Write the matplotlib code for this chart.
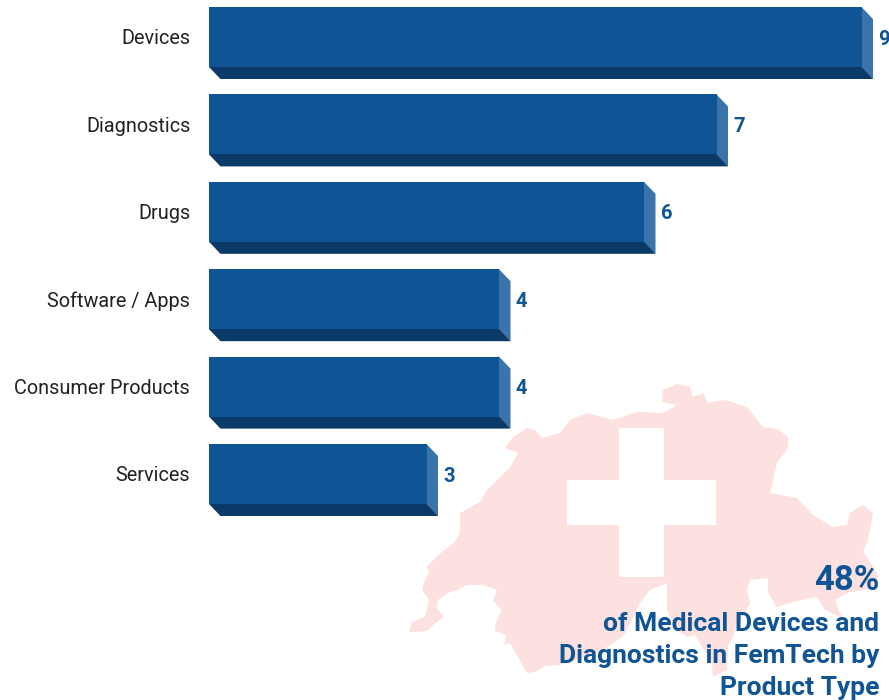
import matplotlib
matplotlib.use("Agg")
import matplotlib.pyplot as plt
from matplotlib.patches import Polygon, Rectangle

plt.rcParams['font.family'] = ['Roboto', 'DejaVu Sans']

categories = ["Devices", "Diagnostics", "Drugs", "Software / Apps", "Consumer Products", "Services"]
counts = [9, 7, 6, 4, 4, 3]

callout_value = "48%"
callout_lines = ["of Medical Devices and", "Diagnostics in FemTech by", "Product Type"]

# outline of Switzerland, in figure pixels
map_outline = [
    (409, 632), (412, 622), (425, 617), (429, 600), (422, 590), (424, 582), (429, 572), (427, 566),
    (442, 552), (455, 542), (460, 533), (460, 513), (480, 502), (487, 490), (500, 477), (510, 467),
    (518, 453), (505, 448), (512, 438), (527, 428), (535, 430), (542, 438), (560, 433), (570, 420),
    (587, 413), (613, 420), (637, 412), (663, 413), (677, 405), (662, 402), (663, 390), (677, 384),
    (690, 387), (693, 397), (703, 393), (708, 403), (725, 400), (747, 407), (763, 427), (778, 429),
    (788, 437), (788, 448), (777, 463), (770, 493), (797, 498), (813, 515), (833, 527), (847, 525),
    (850, 513), (863, 505), (873, 513), (868, 540), (863, 552), (872, 565), (878, 575), (875, 588),
    (850, 592), (835, 600), (842, 618), (825, 610), (817, 597), (793, 602), (777, 607), (768, 593),
    (768, 578), (750, 580), (747, 590), (750, 603), (737, 627), (728, 647), (727, 670), (713, 677),
    (712, 663), (695, 635), (687, 637), (677, 630), (667, 610), (667, 583), (650, 590), (640, 603),
    (627, 630), (622, 637), (600, 652), (560, 665), (545, 666), (535, 672), (527, 673), (518, 657),
    (510, 643), (504, 645), (506, 635), (495, 631), (496, 622), (502, 610), (493, 601), (497, 590),
    (483, 585), (467, 585), (457, 590), (448, 593), (438, 600), (437, 608), (444, 617), (433, 625),
    (427, 631),
]

BLUE = "#0F5494"
SIDE = "#3B73AB"
UNDER = "#0B3A68"
PINK = "#FDE0E0"

W, H = 889, 700
unit = 72.5      # pixels per count
row = 87.4       # pixels per category
depth_x = 11.5 / unit
depth_y = 12 / row
bar_h = 60 / row
lap = 0.02       # faces run a little under the front so no seam shows

fig = plt.figure(figsize=(W / 100, H / 100), dpi=100)

# background layer with the map and the white cross
bg = fig.add_axes([0, 0, 1, 1])
bg.set_xlim(0, W)
bg.set_ylim(H, 0)
bg.axis("off")
bg.add_patch(Polygon(map_outline, closed=True, facecolor=PINK, edgecolor="none"))
bg.add_patch(Rectangle((619, 428), 45, 149, facecolor="white", edgecolor="none"))
bg.add_patch(Rectangle((567, 480), 149, 45, facecolor="white", edgecolor="none"))

ax = fig.add_axes([209 / W, 0, (W - 209) / W, 1])
ax.patch.set_alpha(0)
ax.set_xlim(0, (W - 209) / unit)
ax.set_ylim((H - 37) / row, -37 / row)
for s in ax.spines.values():
    s.set_visible(False)
ax.xaxis.set_visible(False)

ypos = list(range(len(categories)))
ax.barh(ypos, counts, height=bar_h, color=BLUE, linewidth=0, zorder=3)

# fake 3d: a side face and an under face for every bar
for y, v in zip(ypos, counts):
    top = y - bar_h / 2
    bot = y + bar_h / 2
    ax.add_patch(Polygon([(v - lap, top), (v, top), (v + depth_x, top + depth_y),
                          (v + depth_x, bot + depth_y), (v - lap, bot)],
                         closed=True, facecolor=SIDE, edgecolor="none", zorder=2))
    ax.add_patch(Polygon([(0, bot - lap), (v, bot - lap), (v, bot), (v + depth_x, bot + depth_y),
                          (depth_x, bot + depth_y), (0, bot)],
                         closed=True, facecolor=UNDER, edgecolor="none", zorder=2))
    ax.annotate(str(v), (v, y), xytext=(12.2, -1.5), textcoords="offset points", ha="left", va="center",
                color=BLUE, fontsize=14.5, fontweight="bold", annotation_clip=False)

ax.set_yticks(ypos)
ax.set_yticklabels(categories, fontsize=14.3, color="#222222")
ax.tick_params(axis="y", length=0, pad=13.5)

# callout in the lower right corner
bg.text(879, 590, callout_value, ha="right", va="baseline", color=BLUE, fontsize=25, fontweight="bold")
for line, base in zip(callout_lines, [631, 663, 695]):
    bg.text(879, base, line, ha="right", va="baseline", color=BLUE, fontsize=19, fontweight="bold")

fig.savefig("out.png", dpi=100, facecolor="white")
plt.close()
